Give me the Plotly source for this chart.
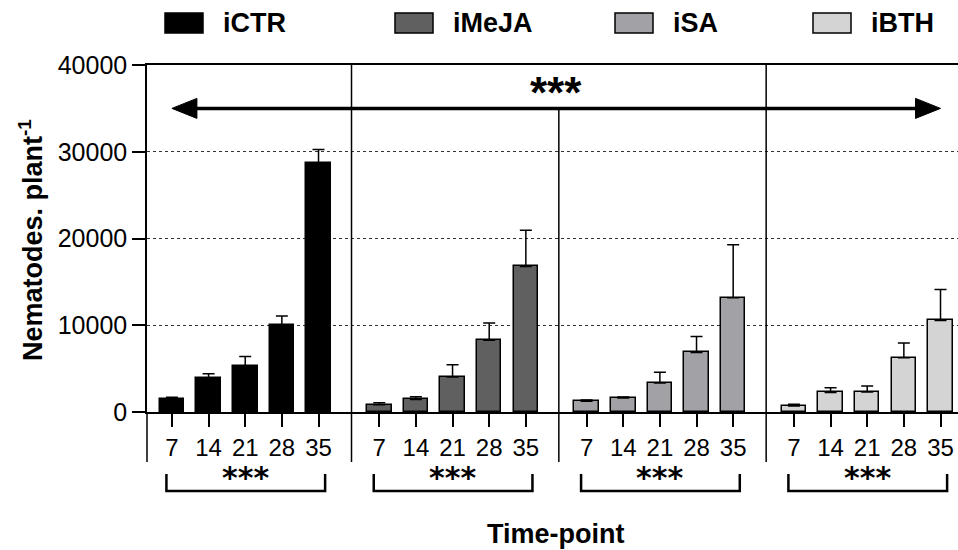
import plotly.graph_objects as go

# ---------------- data ----------------
timepoints = [7, 14, 21, 28, 35]
groups = ["iCTR", "iMeJA", "iSA", "iBTH"]
means = {
    "iCTR":  [1500, 3900, 5300, 9980, 28650],
    "iMeJA": [850, 1450, 4030, 8260, 16780],
    "iSA":   [1230, 1610, 3340, 6870, 13170],
    "iBTH":  [700, 2260, 2300, 6250, 10550],
}
errors = {
    "iCTR":  [200, 500, 1100, 1100, 1600],
    "iMeJA": [230, 300, 1420, 2000, 4180],
    "iSA":   [160, 120, 1230, 1840, 6100],
    "iBTH":  [180, 540, 690, 1690, 3570],
}
colors = {"iCTR": "#000000", "iMeJA": "#606060", "iSA": "#a2a2a6", "iBTH": "#d4d4d4"}
y_ticks = [0, 10000, 20000, 30000, 40000]

# ---------------- layout geometry ----------------
W, H = 958, 550
ML, MR, MT, MB = 147, 0, 65, 138
PW, PH = W - ML - MR, H - MT - MB
UNIT = 36.65           # px per bar slot
GROUP_STEP = 5.657     # slots between group starts
X0 = -0.68
X1 = X0 + PW / UNIT
YMAX = 40000
FONT = "Arial, Liberation Sans, sans-serif"
STAR_FONT = "DejaVu Sans, Arial, sans-serif"

def px2x(px):
    return (px - ML) / PW

def py2y(py):
    return (H - MB - py) / PH

def ypx2data(pxh):
    return pxh / PH * YMAX

fig = go.Figure()

positions_all = []
labels_all = []
for g, name in enumerate(groups):
    xs = [g * GROUP_STEP + i for i in range(len(timepoints))]
    positions_all += xs
    labels_all += [str(t) for t in timepoints]
    fig.add_trace(go.Bar(
        x=xs, y=means[name], name=name, width=0.67,
        marker=dict(color=colors[name], line=dict(color="black", width=1.5)),
        error_y=dict(type="data", array=errors[name], symmetric=False,
                     arrayminus=[0] * len(timepoints),
                     color="black", thickness=1.5, width=6),
        showlegend=False,
    ))

shapes = []
annotations = []

# group dividers and left axis extension
below = py2y(462)
first_c = positions_all[0]
last_c = positions_all[-1]
ARROW_Y = 35000
shapes.append(dict(type="line", xref="paper", yref="paper", x0=0, x1=0, y0=below, y1=0,
                   line=dict(color="black", width=1.5)))
for g in range(1, len(groups)):
    xd = (g - 1) * GROUP_STEP + len(timepoints) - 1 + 0.9
    top = 1 if g != 2 else ARROW_Y / YMAX
    shapes.append(dict(type="line", xref="x", yref="paper", x0=xd, x1=xd, y0=below, y1=top,
                       line=dict(color="black", width=1.5)))

# big double arrow
ah_len = 25 / UNIT
ah_half = ypx2data(10)
shapes.append(dict(type="line", xref="x", yref="y", x0=first_c + ah_len * 0.8, x1=last_c - ah_len * 0.8,
                   y0=ARROW_Y, y1=ARROW_Y, line=dict(color="black", width=3.5)))
shapes.append(dict(type="path", xref="x", yref="y",
                   path=f"M {first_c} {ARROW_Y} L {first_c + ah_len} {ARROW_Y + ah_half} L {first_c + ah_len} {ARROW_Y - ah_half} Z",
                   fillcolor="black", line=dict(color="black", width=1)))
shapes.append(dict(type="path", xref="x", yref="y",
                   path=f"M {last_c} {ARROW_Y} L {last_c - ah_len} {ARROW_Y + ah_half} L {last_c - ah_len} {ARROW_Y - ah_half} Z",
                   fillcolor="black", line=dict(color="black", width=1)))
annotations.append(dict(text="<b>***</b>", xref="x", yref="paper", x=(first_c + last_c) / 2,
                        y=py2y(92), yanchor="middle", xanchor="center", showarrow=False,
                        font=dict(family=FONT, size=44, color="black")))

# per-group brackets and stars
b_top, b_bot = py2y(474), py2y(491)
for g in range(len(groups)):
    a = g * GROUP_STEP - 0.15
    b = g * GROUP_STEP + len(timepoints) - 1 + 0.18
    shapes.append(dict(type="path", xref="x", yref="paper",
                       path=f"M {a} {b_top} L {a} {b_bot} L {b} {b_bot} L {b} {b_top}",
                       line=dict(color="black", width=2.5)))
    annotations.append(dict(text="<b>***</b>", xref="x", yref="paper",
                            x=g * GROUP_STEP + (len(timepoints) - 1) / 2, y=py2y(458),
                            yanchor="top", xanchor="center", showarrow=False,
                            font=dict(family=STAR_FONT, size=30, color="black")))

# legend (manual)
leg_sq = [165, 395, 615, 813]
for name, sx in zip(groups, leg_sq):
    shapes.append(dict(type="rect", xref="paper", yref="paper",
                       x0=px2x(sx), x1=px2x(sx + 38), y0=py2y(33), y1=py2y(13),
                       fillcolor=colors[name], line=dict(color="black", width=1.5)))
    annotations.append(dict(text=f"<b>{name}</b>", xref="paper", yref="paper",
                            x=px2x(sx + 56), y=py2y(23), xanchor="left", yanchor="middle",
                            showarrow=False, font=dict(family=FONT, size=27, color="black")))

# axis titles
annotations.append(dict(text="<b>Time-point</b>", xref="x", yref="paper",
                        x=(first_c + last_c) / 2, y=py2y(534), xanchor="center", yanchor="middle",
                        showarrow=False, font=dict(family=FONT, size=27, color="black")))
annotations.append(dict(text="<b>Nematodes. plant<sup>-1</sup></b>", xref="paper", yref="paper",
                        x=px2x(31), y=py2y(240), xanchor="center", yanchor="middle", textangle=-90,
                        showarrow=False, font=dict(family=FONT, size=27, color="black")))

fig.update_layout(
    width=W, height=H,
    margin=dict(l=ML, r=MR, t=MT, b=MB, pad=0),
    paper_bgcolor="white", plot_bgcolor="white",
    bargap=0, barmode="overlay",
    shapes=shapes, annotations=annotations,
    showlegend=False,
    font=dict(family=FONT, color="black"),
)
fig.update_xaxes(range=[X0, X1], tickvals=positions_all, ticktext=labels_all,
                 ticks="outside", ticklen=13, tickwidth=1.5, tickcolor="black",
                 showline=True, linecolor="black", linewidth=1.5, mirror=True,
                 showgrid=False, zeroline=False,
                 tickfont=dict(family=FONT, size=24, color="black"))
fig.update_yaxes(range=[0, YMAX], tickvals=y_ticks, ticktext=[str(v) for v in y_ticks],
                 ticks="outside", ticklen=13, tickwidth=1.5, tickcolor="black",
                 showline=True, linecolor="black", linewidth=1.5,
                 showgrid=True, gridcolor="#333333", gridwidth=1, griddash="dot",
                 zeroline=False,
                 tickfont=dict(family=FONT, size=25, color="black"))

fig.write_html("out.html")
